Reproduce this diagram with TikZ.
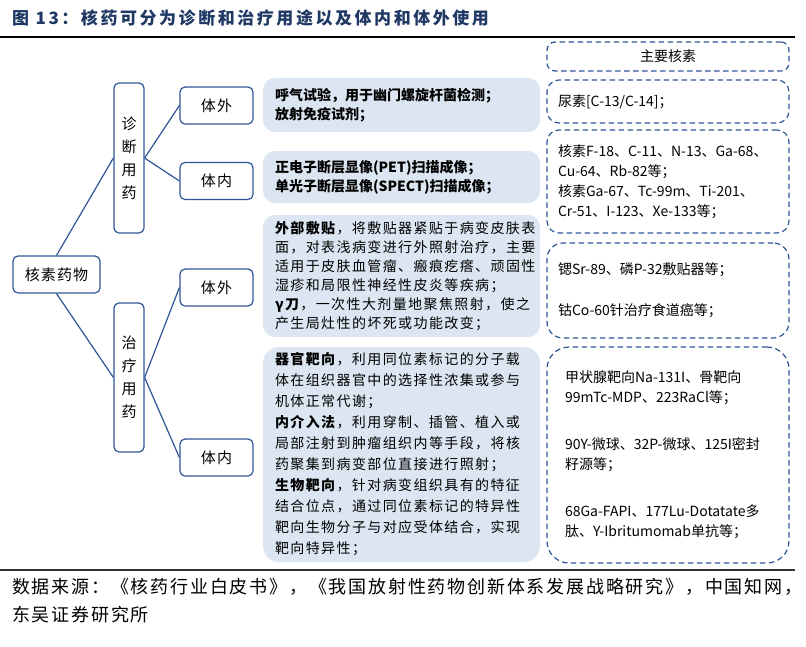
\documentclass[tikz,border=0pt]{standalone}
\usepackage{fontspec}
\setmainfont{Noto Sans CJK SC}
\usepackage{tikz}
\definecolor{DxNavy}{RGB}{31,56,100}
\definecolor{DxBlue}{RGB}{47,85,151}
\definecolor{DxPale}{RGB}{220,230,242}
\newcommand{\Track}[1]{\addfontfeature{LetterSpace=#1}}

\begin{document}
\begin{tikzpicture}[x=1pt, y=-1pt,
  leaf/.style={draw=DxBlue, line width=1.2pt, rounded corners=5pt, minimum width=73, minimum height=37, inner sep=0pt, font=\fontsize{15}{18}\selectfont\Track{7}},
  stem/.style={leaf, minimum width=30, minimum height=150, align=center, font=\fontsize{15}{23}\selectfont},
  note/.style={fill=DxPale, rounded corners=12pt, text width=253, minimum width=277, inner xsep=12, inner ysep=0, align=left, font=\fontsize{14}{19}\selectfont\Track{10}},
  nuc/.style={draw=DxBlue, line width=1.2pt, dash pattern=on 5.5pt off 3.5pt, rounded corners=12pt, text width=220, minimum width=242, inner xsep=11, inner ysep=0, align=left, font=\fontsize{14}{20}\selectfont},
  link/.style={DxBlue, line width=1.2pt}]

\useasboundingbox (0,0) rectangle (806,646);

\draw(12,18) node[anchor=west, inner sep=0, text=DxNavy, font=\fontsize{17}{20}\selectfont\bfseries\Track{15}] (title) {图 13：核药可分为诊断和治疗用途以及体内和体外使用};
\draw[line width=2pt] (0,37) -- (795,37);

\draw(56.5,274.5) node[leaf, minimum width=87] (R) {核素药物};
\draw(129,158) node[stem] (D) {诊\\断\\用\\药};
\draw(129,377.5) node[stem, minimum height=149] (T) {治\\疗\\用\\药};
\draw(216.5,105.5) node[leaf] (D1) {体外};
\draw(216.5,181) node[leaf] (D2) {体内};
\draw(216.5,287.5) node[leaf] (T1) {体外};
\draw(216.5,457.5) node[leaf] (T2) {体内};

\draw[link] (R.north) -- (D.west);
\draw[link] (R.south) -- (T.west);
\draw[link] (D.east) -- (D1.west);
\draw[link] (D.east) -- (D2.west);
\draw[link] (T.east) -- (T1.west);
\draw[link] (T.east) -- (T2.west);

\draw(401.5,105) node[note, minimum height=54, font=\fontsize{14}{19}\selectfont\bfseries] (M1) {呼气试验，用于幽门螺旋杆菌检测；\\放射免疫试剂；};
\draw(401.5,177) node[note, minimum height=52, font=\fontsize{14}{19}\selectfont\bfseries] (M2) {正电子断层显像(PET)扫描成像；\\单光子断层显像(SPECT)扫描成像；};
\draw(401.5,276) node[note, minimum height=122] (M3) {\textbf{外部敷贴}，将敷贴器紧贴于病变皮肤表\\面，对表浅病变进行外照射治疗，主要\\适用于皮肤血管瘤、瘢痕疙瘩、顽固性\\湿疹和局限性神经性皮炎等疾病；\\\textbf{γ刀}，一次性大剂量地聚焦照射，使之\\产生局灶性的坏死或功能改变；};
\draw(401.5,454.5) node[note, minimum height=215, rounded corners=16pt, font=\fontsize{14}{21}\selectfont\Track{10}] (M4) {\textbf{器官靶向}，利用同位素标记的分子载\\体在组织器官中的选择性浓集或参与\\机体正常代谢；\\\textbf{内介入法}，利用穿制、插管、植入或\\局部注射到肿瘤组织内等手段，将核\\药聚集到病变部位直接进行照射；\\\textbf{生物靶向}，针对病变组织具有的特征\\结合位点，通过同位素标记的特异性\\靶向生物分子与对应受体结合，实现\\靶向特异性；};

\draw(668,56.5) node[nuc, minimum height=29, rounded corners=8pt, align=center] (N0) {主要核素};
\draw(668,101.5) node[nuc, minimum height=43] (N1) {尿素[C-13/C-14]；};
\draw(668,181.5) node[nuc, minimum height=103] (N2) {核素F-18、C-11、N-13、Ga-68、\\Cu-64、Rb-82等；\\核素Ga-67、Tc-99m、Ti-201、\\Cr-51、I-123、Xe-133等；};
\draw(668,290.5) node[nuc, minimum height=95, rounded corners=16pt] (N3) {锶Sr-89、磷P-32敷贴器等；\\[21pt]钴Co-60针治疗食道癌等；};
\draw(668,455) node[nuc, minimum height=216, rounded corners=22pt, text width=206, inner xsep=18] (N4) {甲状腺靶向Na-131I、骨靶向\\99mTc-MDP、223RaCl等；\\[27pt]90Y-微球、32P-微球、125I密封\\籽源等；\\[27pt]68Ga-FAPI、177Lu-Dotatate多\\肽、Y-Ibritumomab单抗等；};

\draw[line width=2pt, black!80] (0,570) -- (795,570);
\draw(12,601) node[anchor=west, inner sep=0, align=left, font=\fontsize{18}{28}\selectfont\Track{10}] (src) {数据来源：《核药行业白皮书》，《我国放射性药物创新体系发展战略研究》，中国知网，\\东吴证券研究所};

\end{tikzpicture}
\end{document}
